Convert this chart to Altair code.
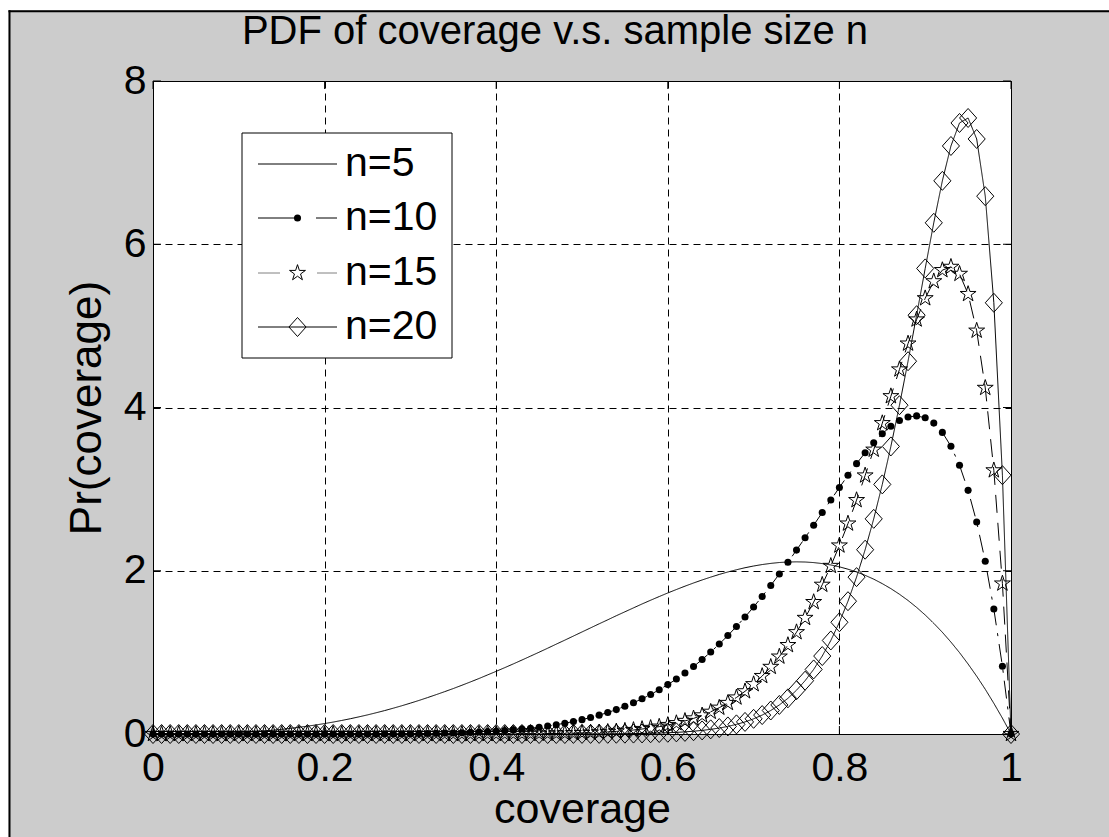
import altair as alt
import pandas as pd

# Sample grid and density values for each sample size
coverage = [
    0.00, 0.01, 0.02, 0.03, 0.04, 0.05, 0.06, 0.07, 0.08, 0.09,
    0.10, 0.11, 0.12, 0.13, 0.14, 0.15, 0.16, 0.17, 0.18, 0.19,
    0.20, 0.21, 0.22, 0.23, 0.24, 0.25, 0.26, 0.27, 0.28, 0.29,
    0.30, 0.31, 0.32, 0.33, 0.34, 0.35, 0.36, 0.37, 0.38, 0.39,
    0.40, 0.41, 0.42, 0.43, 0.44, 0.45, 0.46, 0.47, 0.48, 0.49,
    0.50, 0.51, 0.52, 0.53, 0.54, 0.55, 0.56, 0.57, 0.58, 0.59,
    0.60, 0.61, 0.62, 0.63, 0.64, 0.65, 0.66, 0.67, 0.68, 0.69,
    0.70, 0.71, 0.72, 0.73, 0.74, 0.75, 0.76, 0.77, 0.78, 0.79,
    0.80, 0.81, 0.82, 0.83, 0.84, 0.85, 0.86, 0.87, 0.88, 0.89,
    0.90, 0.91, 0.92, 0.93, 0.94, 0.95, 0.96, 0.97, 0.98, 0.99,
    1.00,
]

pdf_n5 = [
    0.000, 0.000, 0.000, 0.001, 0.001, 0.002, 0.004, 0.006, 0.009, 0.013,
    0.018, 0.024, 0.030, 0.038, 0.047, 0.057, 0.069, 0.082, 0.096, 0.111,
    0.128, 0.146, 0.166, 0.187, 0.210, 0.234, 0.260, 0.287, 0.316, 0.346,
    0.378, 0.411, 0.446, 0.482, 0.519, 0.557, 0.597, 0.638, 0.680, 0.724,
    0.768, 0.813, 0.859, 0.906, 0.954, 1.002, 1.051, 1.101, 1.150, 1.200,
    1.250, 1.300, 1.350, 1.399, 1.449, 1.497, 1.545, 1.593, 1.639, 1.684,
    1.728, 1.770, 1.811, 1.850, 1.887, 1.922, 1.955, 1.985, 2.012, 2.037,
    2.058, 2.076, 2.090, 2.101, 2.107, 2.109, 2.107, 2.100, 2.088, 2.071,
    2.048, 2.019, 1.985, 1.944, 1.897, 1.842, 1.781, 1.712, 1.636, 1.551,
    1.458, 1.356, 1.246, 1.126, 0.997, 0.857, 0.708, 0.548, 0.376, 0.194,
    0.000,
]

pdf_n10 = [
    0.000, 0.000, 0.000, 0.000, 0.000, 0.000, 0.000, 0.000, 0.000, 0.000,
    0.000, 0.000, 0.000, 0.000, 0.000, 0.000, 0.000, 0.000, 0.000, 0.000,
    0.000, 0.000, 0.000, 0.001, 0.001, 0.001, 0.001, 0.002, 0.002, 0.003,
    0.004, 0.005, 0.007, 0.008, 0.011, 0.013, 0.016, 0.020, 0.024, 0.029,
    0.035, 0.042, 0.051, 0.060, 0.071, 0.083, 0.097, 0.114, 0.132, 0.153,
    0.176, 0.202, 0.231, 0.263, 0.299, 0.339, 0.383, 0.431, 0.484, 0.542,
    0.605, 0.673, 0.747, 0.826, 0.912, 1.004, 1.102, 1.206, 1.317, 1.433,
    1.556, 1.685, 1.820, 1.960, 2.104, 2.253, 2.404, 2.558, 2.713, 2.867,
    3.020, 3.169, 3.312, 3.446, 3.569, 3.679, 3.770, 3.840, 3.884, 3.897,
    3.874, 3.809, 3.695, 3.525, 3.292, 2.985, 2.597, 2.116, 1.531, 0.830,
    0.000,
]

pdf_n15 = [
    0.000, 0.000, 0.000, 0.000, 0.000, 0.000, 0.000, 0.000, 0.000, 0.000,
    0.000, 0.000, 0.000, 0.000, 0.000, 0.000, 0.000, 0.000, 0.000, 0.000,
    0.000, 0.000, 0.000, 0.000, 0.000, 0.000, 0.000, 0.000, 0.000, 0.000,
    0.000, 0.000, 0.000, 0.000, 0.000, 0.000, 0.000, 0.000, 0.000, 0.001,
    0.001, 0.001, 0.002, 0.002, 0.003, 0.004, 0.005, 0.006, 0.008, 0.010,
    0.013, 0.016, 0.020, 0.026, 0.032, 0.040, 0.049, 0.061, 0.074, 0.090,
    0.110, 0.133, 0.160, 0.191, 0.228, 0.272, 0.322, 0.380, 0.447, 0.523,
    0.610, 0.710, 0.822, 0.948, 1.089, 1.247, 1.422, 1.616, 1.828, 2.059,
    2.309, 2.578, 2.865, 3.167, 3.483, 3.808, 4.138, 4.466, 4.783, 5.078,
    5.338, 5.546, 5.683, 5.723, 5.637, 5.390, 4.941, 4.240, 3.230, 1.843,
    0.000,
]

pdf_n20 = [
    0.000, 0.000, 0.000, 0.000, 0.000, 0.000, 0.000, 0.000, 0.000, 0.000,
    0.000, 0.000, 0.000, 0.000, 0.000, 0.000, 0.000, 0.000, 0.000, 0.000,
    0.000, 0.000, 0.000, 0.000, 0.000, 0.000, 0.000, 0.000, 0.000, 0.000,
    0.000, 0.000, 0.000, 0.000, 0.000, 0.000, 0.000, 0.000, 0.000, 0.000,
    0.000, 0.000, 0.000, 0.000, 0.000, 0.000, 0.000, 0.000, 0.000, 0.001,
    0.001, 0.001, 0.001, 0.002, 0.003, 0.004, 0.005, 0.007, 0.009, 0.012,
    0.015, 0.020, 0.026, 0.034, 0.044, 0.057, 0.073, 0.093, 0.118, 0.148,
    0.186, 0.232, 0.288, 0.356, 0.437, 0.536, 0.653, 0.791, 0.955, 1.146,
    1.369, 1.627, 1.922, 2.258, 2.636, 3.058, 3.523, 4.028, 4.567, 5.131,
    5.704, 6.263, 6.777, 7.204, 7.486, 7.547, 7.290, 6.589, 5.283, 3.171,
    0.000,
]

series_labels = ["n=5", "n=10", "n=15", "n=20"]
x_ticks = [0, 0.2, 0.4, 0.6, 0.8, 1]
y_ticks = [0, 2, 4, 6, 8]
title_text = "PDF of coverage v.s. sample size n"

# Layout (pixels)
W, H = 858, 653
PAD = {"left": 153, "top": 81, "right": 98, "bottom": 103}
FONT = "Liberation Sans"
FS = 41          # tick labels and legend
FS_TITLE = 40
FS_XLAB = 43
FS_YLAB = 44
TICK = 8

STAR = ("M0,-1L0.2245,-0.309L0.951,-0.309L0.363,0.118L0.588,0.809L0,0.382"
        "L-0.588,0.809L-0.363,0.118L-0.951,-0.309L-0.2245,-0.309Z")
DIAMOND = "M0,-1L0.9,0L0,1L-0.9,0Z"

rows = []
for label, values in zip(series_labels, [pdf_n5, pdf_n10, pdf_n15, pdf_n20]):
    for c, p in zip(coverage, values):
        rows.append({"series": label, "coverage": c, "pdf": p})
df = pd.DataFrame(rows)

x_scale = alt.Scale(domain=[0, 1], nice=False, zero=False)
y_scale = alt.Scale(domain=[0, 8], nice=False, zero=False)

x_axis = alt.Axis(
    values=x_ticks, format="~g", grid=True, ticks=False, tickSize=0,
    domain=False, labelFlush=False, labelOverlap=False,
    labelBaseline="alphabetic", labelPadding=46,
    title="coverage", titleFontSize=FS_XLAB, titleBaseline="alphabetic",
    titleX=W / 2, titleY=88,
)
y_axis = alt.Axis(
    values=y_ticks, format="d", grid=True, ticks=False, tickSize=0,
    domain=False, labelFlush=False, labelOverlap=False, labelPadding=7,
    title="Pr(coverage)", titleFontSize=FS_YLAB, titleBaseline="middle",
    titleAngle=270, titleX=-66, titleY=H / 2,
)


def X(field):
    return alt.X(field, type="quantitative", scale=x_scale, axis=x_axis)


def Y(field):
    return alt.Y(field, type="quantitative", scale=y_scale, axis=y_axis)


one = pd.DataFrame({"k": [0]})

# White margin and black frame of the figure window
frame = alt.layer(
    alt.Chart(one).mark_rect(fill="white", strokeWidth=0).encode(
        x=alt.value(-153), x2=alt.value(-144.5),
        y=alt.value(-81), y2=alt.value(H + 110)),
    alt.Chart(one).mark_rect(fill="white", strokeWidth=0).encode(
        x=alt.value(-153), x2=alt.value(W + 110),
        y=alt.value(-81), y2=alt.value(-70.7)),
    alt.Chart(one).mark_rule(color="black", strokeWidth=2).encode(
        x=alt.value(-143.5), y=alt.value(-70.7), y2=alt.value(H + 110)),
    alt.Chart(one).mark_rule(color="black", strokeWidth=2).encode(
        x=alt.value(-144.5), x2=alt.value(W + 110), y=alt.value(-69.7)),
)

# Plot title above the axes box
title = alt.Chart(pd.DataFrame({"t": [title_text]})).mark_text(
    font=FONT, fontSize=FS_TITLE, color="black", align="center", baseline="alphabetic"
).encode(x=alt.value(402), y=alt.value(-37), text="t:N")

# Inward tick marks on all four sides
xt = pd.DataFrame({"t": x_ticks})
yt = pd.DataFrame({"t": y_ticks})
ticks = alt.layer(
    alt.Chart(xt).mark_rule(color="black", strokeWidth=1).encode(
        x=X("t"), y=alt.value(H), y2=alt.value(H - TICK)),
    alt.Chart(xt).mark_rule(color="black", strokeWidth=1).encode(
        x=X("t"), y=alt.value(0), y2=alt.value(TICK)),
    alt.Chart(yt).mark_rule(color="black", strokeWidth=1).encode(
        y=Y("t"), x=alt.value(0), x2=alt.value(TICK)),
    alt.Chart(yt).mark_rule(color="black", strokeWidth=1).encode(
        y=Y("t"), x=alt.value(W - TICK), x2=alt.value(W)),
)

dash_data = [[1, 0], [18, 8, 3, 8], [18, 10], [1, 0]]
lines = alt.Chart(df).mark_line(color="black", strokeWidth=1, clip=False).encode(
    x=X("coverage"), y=Y("pdf"), detail="series:N",
    strokeDash=alt.StrokeDash("series:N",
                              scale=alt.Scale(domain=series_labels, range=dash_data),
                              legend=None),
)

dots = alt.Chart(df[df.series == "n=10"]).mark_point(
    shape="circle", filled=True, color="black", size=50, opacity=1, clip=False
).encode(x=X("coverage"), y=Y("pdf"))
stars = alt.Chart(df[df.series == "n=15"]).mark_point(
    shape=STAR, filled=False, color="black", size=280, strokeWidth=1, opacity=1, clip=False
).encode(x=X("coverage"), y=Y("pdf"))
diamonds = alt.Chart(df[df.series == "n=20"]).mark_point(
    shape=DIAMOND, filled=False, color="black", size=361, strokeWidth=1, opacity=1, clip=False
).encode(x=X("coverage"), y=Y("pdf"))

# Legend box drawn inside the plot
LEG_X0, LEG_X1, LEG_Y0, LEG_Y1 = 89, 299, 52, 277
SEG_X0, SEG_X1, MARK_X, TEXT_X = 105, 184, 144.5, 192
row_y = [83, 137, 192, 246]
legend_df = pd.DataFrame({"label": series_labels, "ly": row_y})

legend_parts = [
    alt.Chart(one).mark_rect(fill="white", stroke="black", strokeWidth=1).encode(
        x=alt.value(LEG_X0), x2=alt.value(LEG_X1),
        y=alt.value(LEG_Y0), y2=alt.value(LEG_Y1)),
]
legend_dash = {"n=5": [1, 0], "n=10": [40, 18, 22], "n=15": [22, 37, 22], "n=20": [1, 0]}
legend_color = {"n=5": "black", "n=10": "black", "n=15": "#808080", "n=20": "black"}
for lab in series_labels:
    legend_parts.append(
        alt.Chart(legend_df[legend_df.label == lab]).mark_rule(
            color=legend_color[lab], strokeWidth=1, strokeDash=legend_dash[lab]
        ).encode(x=alt.value(SEG_X0), x2=alt.value(SEG_X1), y=alt.Y("ly:Q", scale=None))
    )
legend_parts += [
    alt.Chart(legend_df[legend_df.label == "n=10"]).mark_point(
        shape="circle", filled=True, color="black", size=50, opacity=1
    ).encode(x=alt.value(MARK_X), y=alt.Y("ly:Q", scale=None)),
    alt.Chart(legend_df[legend_df.label == "n=15"]).mark_point(
        shape=STAR, filled=False, color="black", size=280, strokeWidth=1, opacity=1
    ).encode(x=alt.value(MARK_X), y=alt.Y("ly:Q", scale=None)),
    alt.Chart(legend_df[legend_df.label == "n=20"]).mark_point(
        shape=DIAMOND, filled=False, color="black", size=361, strokeWidth=1, opacity=1
    ).encode(x=alt.value(MARK_X), y=alt.Y("ly:Q", scale=None)),
    alt.Chart(legend_df).mark_text(
        align="left", baseline="middle", font=FONT, fontSize=FS, color="black"
    ).encode(x=alt.value(TEXT_X), y=alt.Y("ly:Q", scale=None), text="label:N"),
]

chart = alt.layer(
    frame, title, ticks, lines, dots, stars, diamonds, *legend_parts
).properties(
    width=W, height=H,
    autosize=alt.AutoSizeParams(type="none"),
    padding=PAD,
    background="#cccccc",
).configure_view(
    fill="white", stroke="black", strokeWidth=1
).configure_axis(
    labelFont=FONT, labelFontSize=FS, labelColor="black",
    titleFont=FONT, titleColor="black", titleFontWeight="normal",
    gridColor="black", gridDash=[7, 5], gridWidth=1, gridOpacity=1,
)

chart.save("out.html", embed_options={"renderer": "svg", "actions": False})
